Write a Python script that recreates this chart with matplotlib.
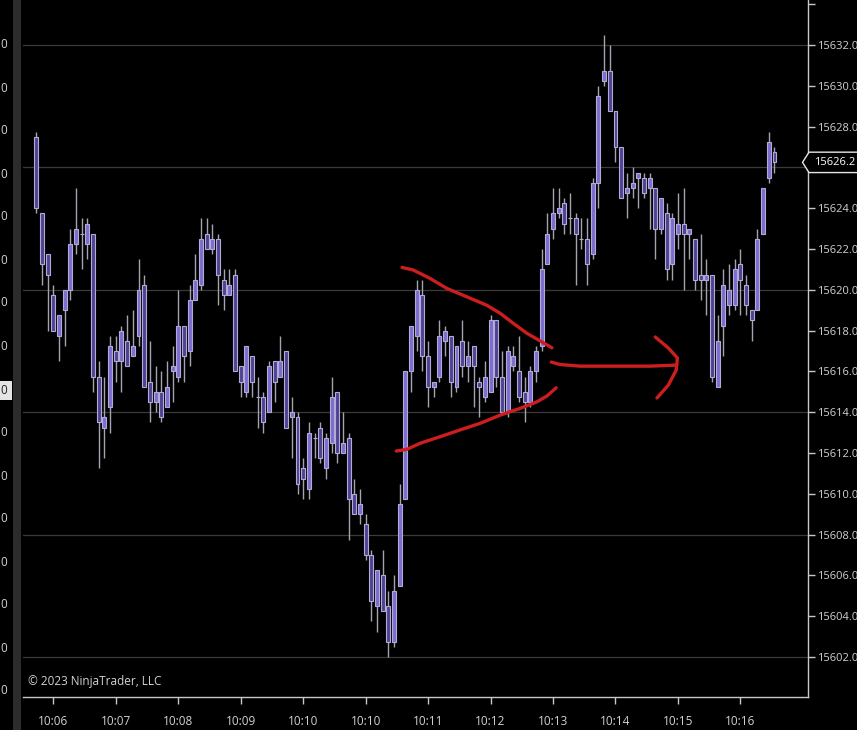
import numpy as np
import matplotlib
matplotlib.use("Agg")
import matplotlib.pyplot as plt
from matplotlib.patches import Rectangle, Polygon
from matplotlib.transforms import blended_transform_factory

plt.rcParams['font.family'] = ['Open Sans', 'DejaVu Sans']

# OHLC of the bars
opens = [15627.5, 15623.75, 15621.75, 15619.75, 15617.75, 15619.0, 15620.0, 15622.25, 15622.75, 15622.25,
         15622.75, 15615.75, 15613.25, 15614.25, 15617.0, 15616.5, 15617.5, 15616.75, 15617.75, 15620.25,
         15615.5, 15614.5, 15615.0, 15614.25, 15616.0, 15615.75, 15618.25, 15617.0, 15619.5, 15620.25,
         15622.75, 15622.0, 15622.5, 15620.5, 15619.75, 15620.75, 15616.25, 15615.0, 15616.75, 15614.75,
         15614.75, 15614.0, 15616.5, 15615.75, 15617.0, 15613.75, 15613.75, 15611.25, 15610.25, 15612.75,
         15613.25, 15611.25, 15612.5, 15615.0, 15612.0, 15612.75, 15610.0, 15609.0, 15608.5, 15607.0,
         15604.5, 15606.0, 15604.5, 15602.75, 15605.5, 15609.75, 15616.0, 15617.75, 15619.75, 15616.75,
         15615.25, 15615.75, 15617.5, 15617.75, 15615.25, 15617.5, 15616.25, 15617.25, 15615.5, 15614.75,
         15615.0, 15618.5, 15615.75, 15614.0, 15616.25, 15616.0, 15615.0, 15614.5, 15616.0, 15617.25,
         15621.25, 15623.0, 15623.75, 15624.25, 15623.5, 15623.5, 15622.5, 15622.5, 15621.75, 15625.25,
         15630.25, 15630.75, 15628.75, 15627.0, 15624.75, 15625.0, 15625.5, 15625.5, 15625.0, 15625.0,
         15623.0, 15623.75, 15621.25, 15622.75, 15623.25, 15622.75, 15622.5, 15620.75, 15620.5, 15620.75,
         15615.25, 15618.25, 15619.25, 15619.25, 15621.25, 15620.25, 15619.0, 15619.0, 15622.75, 15625.5,
         15626.75]
highs = [15627.75, 15623.75, 15621.75, 15620.25, 15618.75, 15620.0, 15623.0, 15625.0, 15623.5, 15623.5,
         15622.75, 15616.5, 15615.75, 15617.75, 15617.75, 15618.25, 15618.75, 15619.0, 15621.5, 15620.75,
         15617.5, 15616.25, 15616.0, 15616.5, 15617.25, 15620.0, 15618.25, 15620.25, 15621.75, 15623.5,
         15623.5, 15623.25, 15622.75, 15621.0, 15621.0, 15621.0, 15616.25, 15617.25, 15616.75, 15615.75,
         15615.0, 15616.5, 15616.5, 15617.75, 15617.0, 15614.75, 15614.0, 15611.75, 15613.5, 15613.0,
         15613.5, 15613.0, 15615.75, 15615.0, 15614.0, 15613.0, 15610.75, 15610.25, 15609.0, 15607.25,
         15606.25, 15607.25, 15605.25, 15606.0, 15610.5, 15616.0, 15618.25, 15620.5, 15620.5, 15617.5,
         15615.5, 15618.5, 15618.25, 15617.75, 15617.25, 15618.5, 15617.5, 15617.25, 15615.75, 15616.5,
         15618.75, 15618.5, 15617.0, 15617.25, 15617.25, 15617.75, 15615.75, 15616.25, 15617.25, 15622.0,
         15623.75, 15625.0, 15625.0, 15624.5, 15624.75, 15623.75, 15623.5, 15623.5, 15625.5, 15630.0,
         15632.5, 15632.0, 15628.75, 15627.0, 15625.75, 15626.0, 15625.75, 15625.75, 15625.75, 15625.0,
         15624.5, 15624.25, 15623.75, 15624.75, 15625.0, 15623.0, 15622.5, 15622.75, 15621.5, 15620.75,
         15618.75, 15621.0, 15621.25, 15621.5, 15622.0, 15620.75, 15619.0, 15623.0, 15625.0, 15627.75,
         15627.0]
lows = [15623.75, 15620.25, 15618.0, 15618.0, 15616.5, 15617.25, 15619.5, 15621.75, 15621.0, 15621.5,
        15615.0, 15611.25, 15611.75, 15613.0, 15615.5, 15615.0, 15616.25, 15616.75, 15617.25, 15615.25,
        15613.5, 15614.0, 15613.5, 15614.25, 15614.5, 15615.5, 15615.5, 15616.25, 15619.5, 15620.0,
        15622.0, 15621.75, 15619.25, 15619.0, 15619.75, 15616.0, 15614.75, 15614.75, 15614.75, 15613.25,
        15613.0, 15614.0, 15614.5, 15615.75, 15613.25, 15611.75, 15610.0, 15609.75, 15609.75, 15611.75,
        15611.5, 15610.75, 15612.0, 15611.5, 15612.0, 15607.75, 15609.0, 15608.5, 15606.75, 15603.75,
        15603.25, 15604.25, 15602.0, 15602.5, 15605.5, 15609.75, 15615.0, 15617.0, 15616.0, 15614.25,
        15614.75, 15615.5, 15616.75, 15614.75, 15615.0, 15615.75, 15615.5, 15614.25, 15613.75, 15614.5,
        15615.0, 15615.25, 15614.0, 15613.75, 15616.0, 15614.5, 15613.5, 15614.25, 15615.5, 15617.0,
        15621.25, 15622.5, 15623.5, 15622.75, 15622.75, 15620.25, 15622.0, 15620.25, 15621.5, 15624.0,
        15630.0, 15628.75, 15626.25, 15624.5, 15623.5, 15624.5, 15624.0, 15624.5, 15623.0, 15621.5,
        15622.75, 15620.5, 15620.5, 15622.0, 15620.0, 15621.5, 15620.0, 15619.5, 15618.75, 15615.5,
        15615.25, 15616.75, 15618.75, 15619.0, 15618.75, 15618.75, 15617.5, 15619.0, 15622.75, 15625.25,
        15625.75]
closes = [15624.0, 15621.25, 15620.75, 15618.0, 15618.75, 15620.0, 15622.25, 15623.0, 15622.75, 15623.25,
          15615.75, 15613.5, 15613.75, 15617.25, 15616.5, 15618.0, 15616.25, 15617.25, 15620.0, 15615.25,
          15614.5, 15615.0, 15613.75, 15615.25, 15616.25, 15618.25, 15616.75, 15619.5, 15620.5, 15622.5,
          15622.0, 15622.5, 15620.75, 15619.75, 15620.25, 15616.0, 15615.5, 15617.25, 15615.5, 15614.75,
          15613.5, 15616.25, 15615.5, 15616.5, 15613.25, 15614.0, 15610.5, 15610.75, 15613.0, 15612.75,
          15611.75, 15612.75, 15614.75, 15612.0, 15612.5, 15609.75, 15609.0, 15609.5, 15607.0, 15604.75,
          15606.25, 15604.25, 15602.75, 15605.25, 15609.5, 15616.0, 15618.25, 15620.0, 15616.75, 15615.25,
          15615.5, 15617.75, 15618.0, 15615.5, 15617.25, 15616.25, 15616.75, 15616.25, 15615.25, 15615.75,
          15618.5, 15615.75, 15614.0, 15617.0, 15616.75, 15614.75, 15614.5, 15616.0, 15617.0, 15621.0,
          15622.75, 15623.75, 15624.0, 15623.25, 15623.5, 15622.75, 15622.5, 15621.25, 15625.25, 15629.5,
          15630.75, 15628.75, 15627.0, 15624.5, 15625.0, 15625.25, 15625.75, 15624.75, 15625.5, 15623.0,
          15624.5, 15621.0, 15623.5, 15623.25, 15622.75, 15623.0, 15620.5, 15620.5, 15620.75, 15615.75,
          15617.5, 15620.25, 15620.0, 15621.0, 15620.5, 15619.25, 15618.5, 15622.5, 15625.0, 15627.25,
          15626.25]

time_tick_bars = [3, 14, 25, 36, 47, 58, 69, 80, 91, 102, 113, 124]
time_tick_labels = ['10:06', '10:07', '10:08', '10:09', '10:10', '10:10',
                    '10:11', '10:12', '10:13', '10:14', '10:15', '10:16']
left_strip_y_px = [44, 88, 131, 174, 217, 260, 303, 347, 390, 433, 476, 519, 562, 605, 648, 691]

# hand drawn annotations (bar index, price)
upper_line = [(64.4, 15621.10), (66.4, 15620.97), (69.35, 15620.56), (72.3, 15620.07), (75.8, 15619.66),
              (79.3, 15619.25), (81.7, 15618.85), (84.0, 15618.36), (86.4, 15617.87), (88.7, 15617.50),
              (90.8, 15617.16)]
lower_line = [(63.4, 15612.10), (65.25, 15612.18), (67.6, 15612.48), (71.1, 15612.80), (74.6, 15613.13),
              (78.2, 15613.46), (81.7, 15613.86), (85.2, 15614.19), (88.15, 15614.51), (89.9, 15614.79),
              (91.55, 15615.20)]
arrow_shaft = [(90.7, 15616.46), (92.25, 15616.34), (95.8, 15616.26), (102.8, 15616.26),
               (108.1, 15616.26), (112.7, 15616.31)]
arrow_head = [(109.0, 15617.69), (111.3, 15617.15), (112.9, 15616.66), (112.7, 15616.07),
              (111.3, 15615.33), (109.3, 15614.70)]

W, H = 857, 730
bg = '#000000'
up_col = '#7b6cd0'
dn_col = '#4e4393'
outline = '#b2abd6'
wick_col = '#a4a4b0'
axis_col = '#c8c8c8'
text_col = '#d2d2d2'
grid_col = '#3a3a3a'
red = '#cc1e1e'

fig = plt.figure(figsize=(W / 100, H / 100), dpi=100, facecolor=bg)
ax = fig.add_axes([23 / W, 33 / H, (808 - 23) / W, 697 / H])
ax.set_facecolor(bg)

o = np.array(opens); h = np.array(highs); l = np.array(lows); c = np.array(closes)
x = np.arange(len(o))
up = c >= o

# grid
for p in np.arange(15602, 15634, 6):
    ax.axhline(p, color=grid_col, lw=0.9, zorder=1)

# candles
ax.vlines(x, l, h, color=wick_col, lw=1.0, zorder=2)
ax.bar(x, np.abs(c - o), bottom=np.minimum(o, c), width=0.7,
       color=np.where(up, up_col, dn_col), edgecolor=outline, linewidth=0.8, zorder=3)

# annotations
for pts in (upper_line, lower_line, arrow_shaft, arrow_head):
    px, py = zip(*pts)
    ax.plot(px, py, color=red, lw=2.4, solid_capstyle='round', solid_joinstyle='round', zorder=5)

ax.set_xlim(-2.34, 135.9)
ax.set_ylim(15600.04, 15634.21)

for s in ('left', 'top'):
    ax.spines[s].set_visible(False)
for s in ('right', 'bottom'):
    ax.spines[s].set_color(axis_col)
    ax.spines[s].set_linewidth(1.0)

# price axis: the screenshot cuts the labels at the right edge, show what fits
ax.yaxis.tick_right()
yt = [p for p in range(15602, 15636, 2) if p != 15626]
ax.set_yticks(yt)
ax.set_yticklabels([f'{p:.1f}' if p < 15634 else '' for p in yt])
ax.tick_params(axis='y', colors=axis_col, labelcolor=text_col, length=5, width=1,
               pad=1.5, labelsize=8)
ax.set_xticks(time_tick_bars)
ax.set_xticklabels(time_tick_labels)
ax.tick_params(axis='x', colors=axis_col, labelcolor=text_col, length=5, width=1,
               pad=8, labelsize=8.5)

# current price marker
last = c[-1]
tr = blended_transform_factory(ax.transAxes, ax.transData)
x0 = (802.5 - 23) / 785
x1 = (809 - 23) / 785
x2 = (870 - 23) / 785
marker = Polygon([(x0, last), (x1, last + 0.5), (x2, last + 0.5), (x2, last - 0.5), (x1, last - 0.5)],
                 closed=True, transform=tr, facecolor='black', edgecolor='#e6e6e6', lw=1.0,
                 clip_on=False, zorder=6)
ax.add_patch(marker)
ax.text((814 - 23) / 785, last, f'{last:.1f}', transform=tr, color='white', fontsize=8,
        va='center', ha='left', clip_on=False, zorder=7)

# copyright
fig.text(28 / W, 1 - 682 / H, '\u00a9 2023 NinjaTrader, LLC', color=text_col, fontsize=8.5,
         va='center', ha='left')

# left strip (neighbouring panel)
fig.patches.append(Rectangle((13 / W, 0), 8 / W, 1, transform=fig.transFigure,
                             facecolor='#2c2c2c', edgecolor='none', zorder=0))
fig.patches.append(Rectangle((0, 1 - 400 / H), 12 / W, 19 / H, transform=fig.transFigure,
                             facecolor='#e4e4e4', edgecolor='none', zorder=0))
for yp in left_strip_y_px:
    fig.text(0.5 / W, 1 - yp / H, '0', color='#202020' if yp == 390 else text_col,
             fontsize=8.5, va='center', ha='left')

fig.savefig('out.png', dpi=100, facecolor=bg)
